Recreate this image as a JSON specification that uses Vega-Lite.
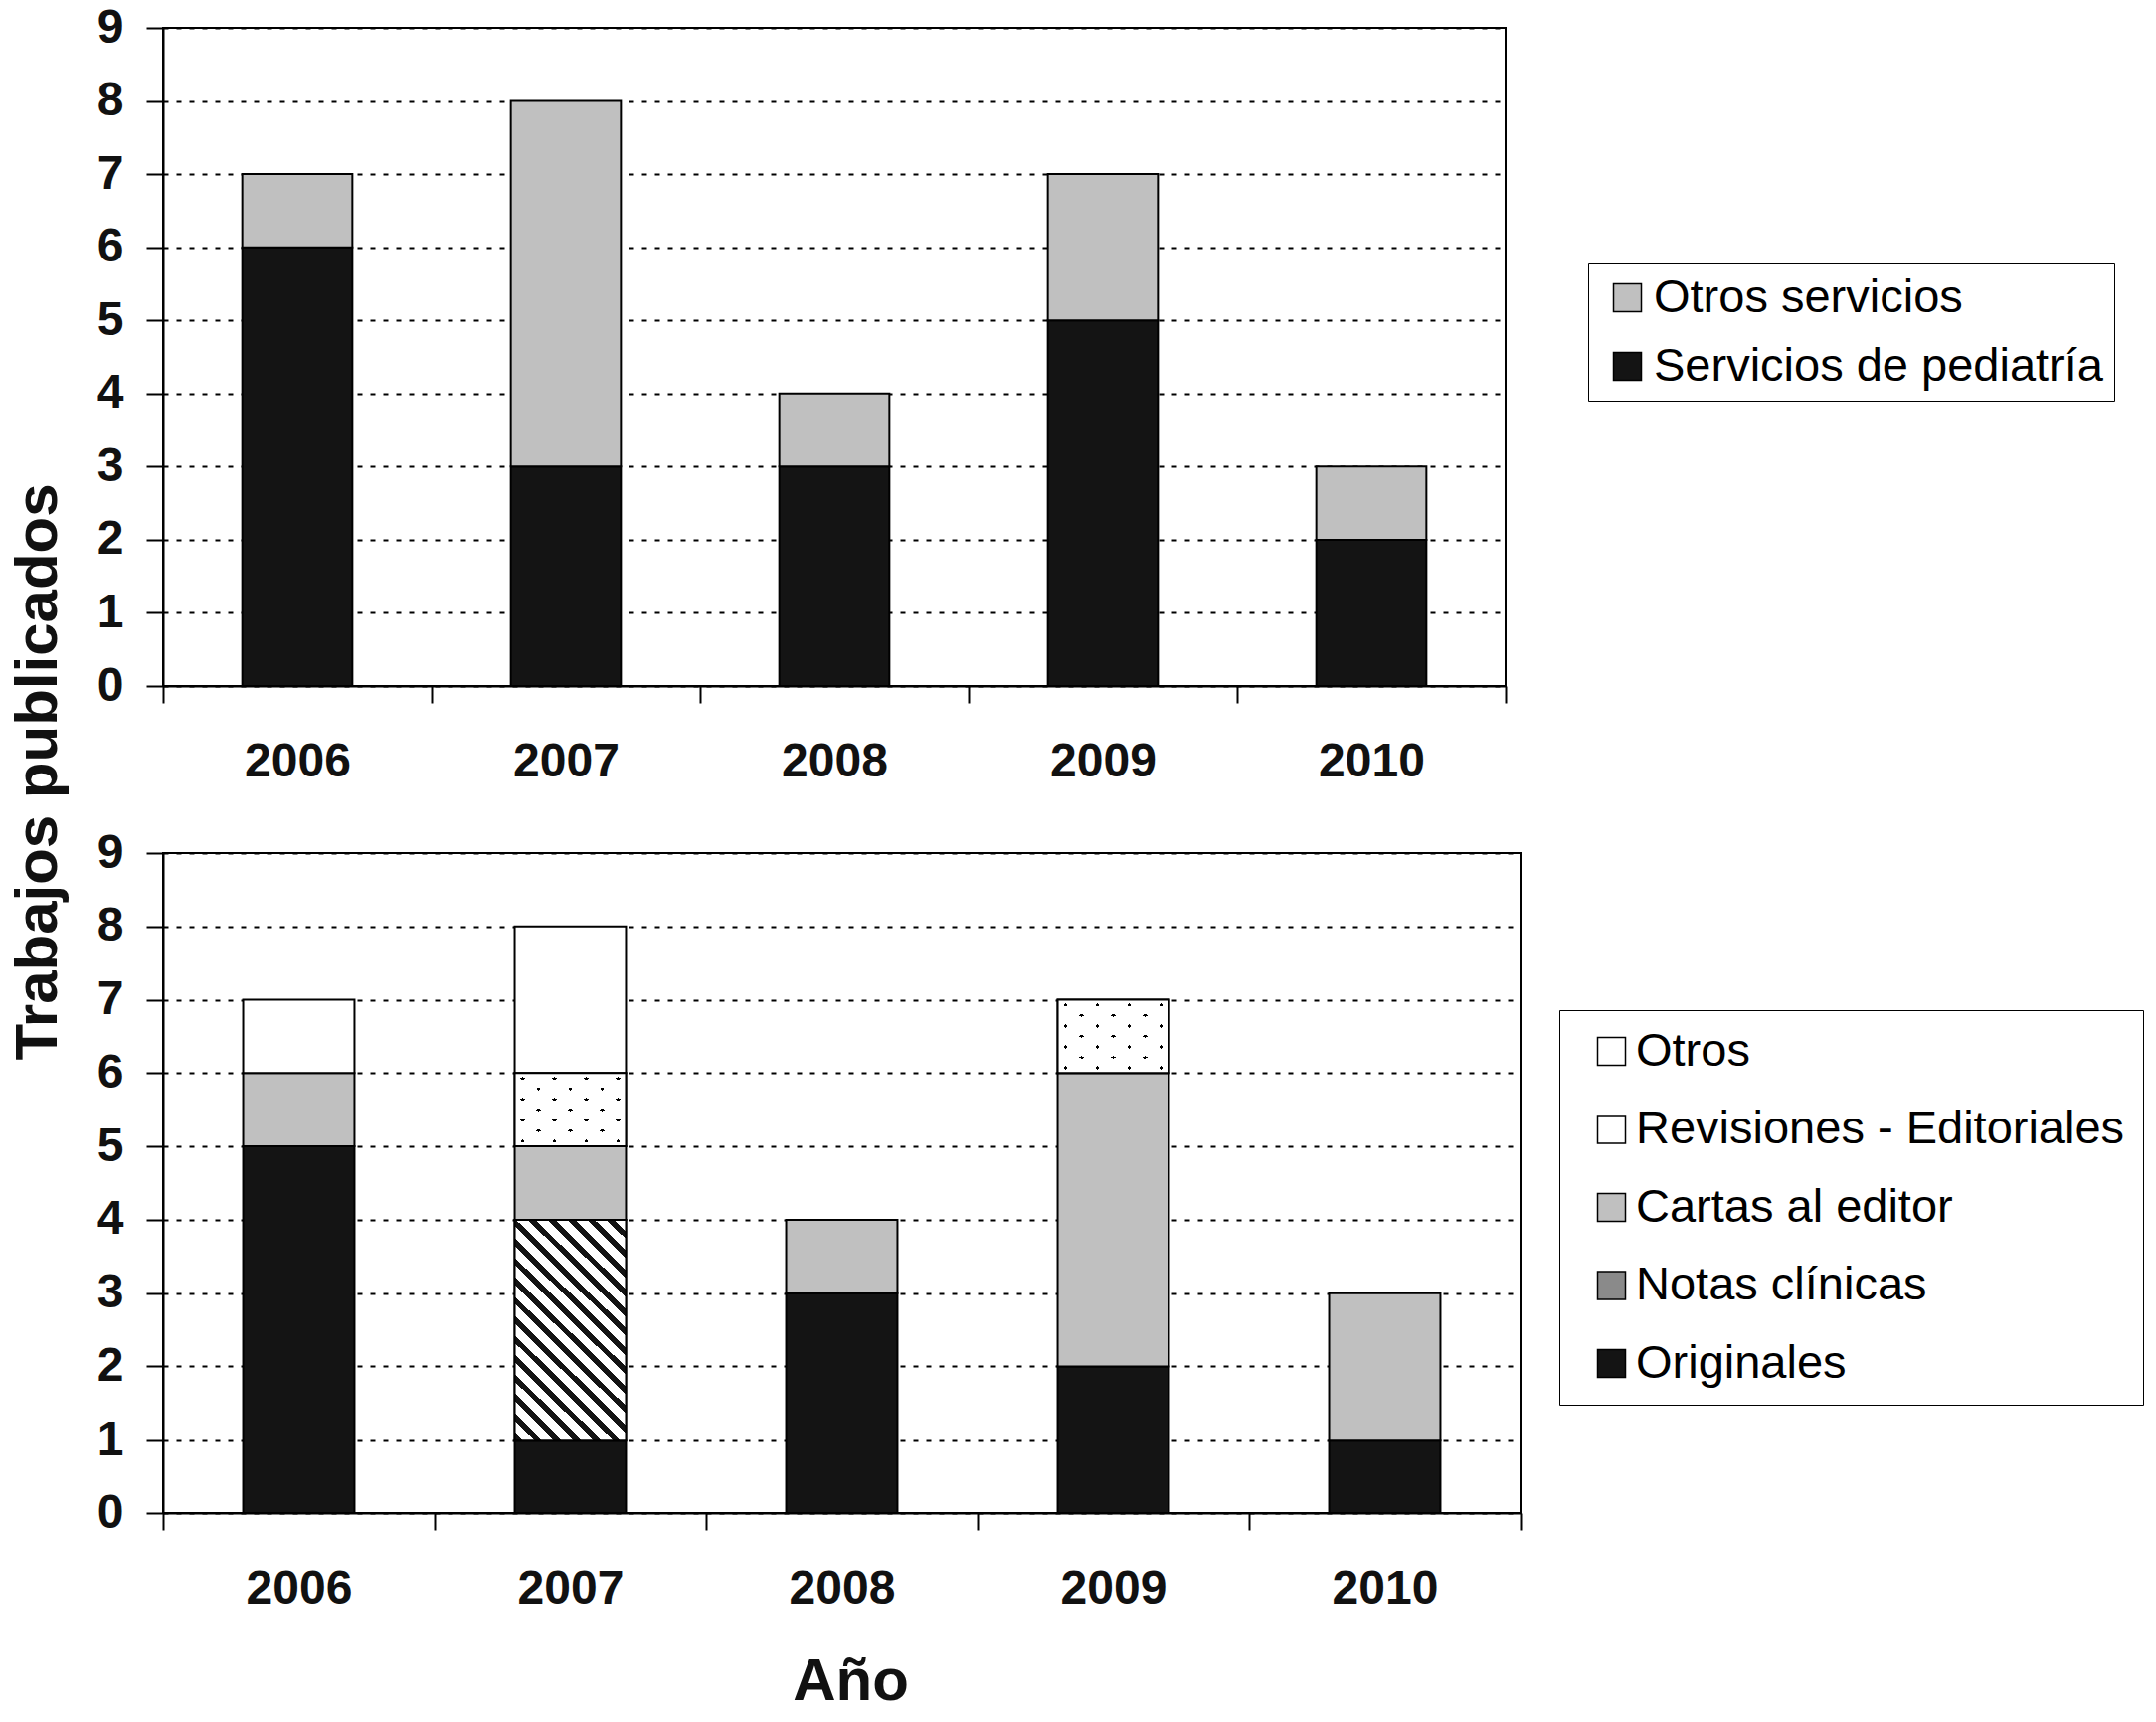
{
  "$schema": "https://vega.github.io/schema/vega-lite/v6.json",
  "background": "white",
  "padding": {"left": 6, "top": 3, "right": 0, "bottom": 0},
  "bounds": "flush",
  "spacing": 168,
  "resolve": {"scale": {"color": "independent"}, "legend": {"color": "independent"}},
  "config": {
    "font": "Liberation Sans",
    "view": {"stroke": "black", "strokeWidth": 2},
    "axis": {
      "labelFont": "Liberation Sans", "labelFontSize": 48, "labelFontWeight": "bold", "labelColor": "#111111",
      "domainColor": "black", "domainWidth": 2, "tickColor": "black", "tickWidth": 2, "tickSize": 17,
      "titleFont": "Liberation Sans", "titleFontSize": 60, "titleFontWeight": "bold", "titleColor": "#111111"
    },
    "axisY": {"gridColor": "black", "gridDash": [5, 8], "gridWidth": 2, "labelPadding": 23},
    "axisX": {"labelAngle": 0, "labelPadding": 35, "tickBand": "extent", "grid": false},
    "legend": {
      "title": null, "labelFont": "Liberation Sans", "labelColor": "black", "symbolType": "square",
      "symbolSize": 784, "symbolStrokeColor": "black", "symbolStrokeWidth": 1.5, "strokeColor": "black",
      "labelLimit": 1000, "orient": "none", "cornerRadius": 0, "labelFontSize": 47
    }
  },
  "vconcat": [
    {
      "width": 1350,
      "height": 662,
      "data": {"values": [
        {"year": "2006", "type": "Servicios de pediatría", "n": 6, "ord": 1},
        {"year": "2006", "type": "Otros servicios", "n": 1, "ord": 2},
        {"year": "2007", "type": "Servicios de pediatría", "n": 3, "ord": 1},
        {"year": "2007", "type": "Otros servicios", "n": 5, "ord": 2},
        {"year": "2008", "type": "Servicios de pediatría", "n": 3, "ord": 1},
        {"year": "2008", "type": "Otros servicios", "n": 1, "ord": 2},
        {"year": "2009", "type": "Servicios de pediatría", "n": 5, "ord": 1},
        {"year": "2009", "type": "Otros servicios", "n": 2, "ord": 2},
        {"year": "2010", "type": "Servicios de pediatría", "n": 2, "ord": 1},
        {"year": "2010", "type": "Otros servicios", "n": 1, "ord": 2}
      ]},
      "transform": [{"stack": "n", "groupby": ["year"], "sort": [{"field": "ord"}], "as": ["v0", "v1"]}],
      "mark": {"type": "bar", "stroke": "black", "strokeWidth": 2, "width": {"band": 0.41}},
      "encoding": {
        "x": {"field": "year", "type": "ordinal", "scale": {"paddingInner": 0, "paddingOuter": 0}, "axis": {"title": null}},
        "y": {"field": "v0", "type": "quantitative", "scale": {"domain": [0, 9], "nice": false},
              "axis": {"title": null, "values": [0, 1, 2, 3, 4, 5, 6, 7, 8, 9], "grid": true}},
        "y2": {"field": "v1"},
        "color": {"field": "type", "type": "nominal",
          "scale": {"domain": ["Otros servicios", "Servicios de pediatría"], "range": ["#c0c0c0", "#141414"]},
          "legend": {"orient": "none", "legendX": 1433, "legendY": 237, "padding": 11, "rowPadding": 21,
                     "symbolOffset": 5, "labelOffset": 3, "labelExpr": "datum.label + '  '"}}
      }
    },
    {
      "width": 1365,
      "height": 664,
      "data": {"values": [
        {"year": "2006", "type": "Originales", "n": 5, "ord": 1},
        {"year": "2006", "type": "Cartas al editor", "n": 1, "ord": 3},
        {"year": "2006", "type": "Otros", "n": 1, "ord": 5},
        {"year": "2007", "type": "Originales", "n": 1, "ord": 1},
        {"year": "2007", "type": "Notas clínicas", "n": 3, "ord": 2},
        {"year": "2007", "type": "Cartas al editor", "n": 1, "ord": 3},
        {"year": "2007", "type": "Revisiones - Editoriales", "n": 1, "ord": 4},
        {"year": "2007", "type": "Otros", "n": 2, "ord": 5},
        {"year": "2008", "type": "Originales", "n": 3, "ord": 1},
        {"year": "2008", "type": "Cartas al editor", "n": 1, "ord": 3},
        {"year": "2009", "type": "Originales", "n": 2, "ord": 1},
        {"year": "2009", "type": "Cartas al editor", "n": 4, "ord": 3},
        {"year": "2009", "type": "Revisiones - Editoriales", "n": 1, "ord": 4},
        {"year": "2010", "type": "Originales", "n": 1, "ord": 1},
        {"year": "2010", "type": "Cartas al editor", "n": 2, "ord": 3}
      ]},
      "transform": [{"stack": "n", "groupby": ["year"], "sort": [{"field": "ord"}], "as": ["v0", "v1"]}],
      "encoding": {
        "x": {"field": "year", "type": "ordinal", "scale": {"paddingInner": 0, "paddingOuter": 0},
              "axis": {"title": "Año", "titlePadding": 40, "titleX": 691, "titleAlign": "center"}},
        "y": {"field": "v0", "type": "quantitative", "scale": {"domain": [0, 9], "nice": false},
              "axis": {"title": "Trabajos publicados", "values": [0, 1, 2, 3, 4, 5, 6, 7, 8, 9], "grid": true,
                       "titleX": -126, "titleY": -82, "titleAngle": 270, "titleAlign": "center", "titleBaseline": "middle"}},
        "y2": {"field": "v1"}
      },
      "layer": [
        {
          "mark": {"type": "bar", "stroke": "black", "strokeWidth": 2, "width": {"band": 0.41}},
          "encoding": {
            "color": {"field": "type", "type": "nominal",
              "scale": {
                "domain": ["Otros", "Revisiones - Editoriales", "Cartas al editor", "Notas clínicas", "Originales"],
                "range": ["white", "white", "#c0c0c0", "#8a8a8a", "#141414"]},
              "legend": {"orient": "none", "legendX": 1404, "legendY": 158, "padding": 18, "rowPadding": 30.5,
                         "symbolOffset": 11, "labelOffset": 1,
                         "labelExpr": "datum.label + '  '"}}
          }
        },
        {
          "transform": [{"filter": "datum.type === 'Notas clínicas'"}],
          "mark": {"type": "bar", "stroke": "black", "strokeWidth": 2, "width": {"band": 0.41},
            "fill": {"gradient": "linear", "x1": 0, "y1": 1, "x2": 0.6, "y2": -0.2,
              "stops": [
                {"offset": 0, "color": "#141414"}, {"offset": 0.0235, "color": "#141414"}, {"offset": 0.0235, "color": "white"}, {"offset": 0.0588, "color": "white"},
                {"offset": 0.0588, "color": "#141414"}, {"offset": 0.0824, "color": "#141414"}, {"offset": 0.0824, "color": "white"}, {"offset": 0.1176, "color": "white"},
                {"offset": 0.1176, "color": "#141414"}, {"offset": 0.1412, "color": "#141414"}, {"offset": 0.1412, "color": "white"}, {"offset": 0.1765, "color": "white"},
                {"offset": 0.1765, "color": "#141414"}, {"offset": 0.2, "color": "#141414"}, {"offset": 0.2, "color": "white"}, {"offset": 0.2353, "color": "white"},
                {"offset": 0.2353, "color": "#141414"}, {"offset": 0.2588, "color": "#141414"}, {"offset": 0.2588, "color": "white"}, {"offset": 0.2941, "color": "white"},
                {"offset": 0.2941, "color": "#141414"}, {"offset": 0.3176, "color": "#141414"}, {"offset": 0.3176, "color": "white"}, {"offset": 0.3529, "color": "white"},
                {"offset": 0.3529, "color": "#141414"}, {"offset": 0.3765, "color": "#141414"}, {"offset": 0.3765, "color": "white"}, {"offset": 0.4118, "color": "white"},
                {"offset": 0.4118, "color": "#141414"}, {"offset": 0.4353, "color": "#141414"}, {"offset": 0.4353, "color": "white"}, {"offset": 0.4706, "color": "white"},
                {"offset": 0.4706, "color": "#141414"}, {"offset": 0.4941, "color": "#141414"}, {"offset": 0.4941, "color": "white"}, {"offset": 0.5294, "color": "white"},
                {"offset": 0.5294, "color": "#141414"}, {"offset": 0.5529, "color": "#141414"}, {"offset": 0.5529, "color": "white"}, {"offset": 0.5882, "color": "white"},
                {"offset": 0.5882, "color": "#141414"}, {"offset": 0.6118, "color": "#141414"}, {"offset": 0.6118, "color": "white"}, {"offset": 0.6471, "color": "white"},
                {"offset": 0.6471, "color": "#141414"}, {"offset": 0.6706, "color": "#141414"}, {"offset": 0.6706, "color": "white"}, {"offset": 0.7059, "color": "white"},
                {"offset": 0.7059, "color": "#141414"}, {"offset": 0.7294, "color": "#141414"}, {"offset": 0.7294, "color": "white"}, {"offset": 0.7647, "color": "white"},
                {"offset": 0.7647, "color": "#141414"}, {"offset": 0.7882, "color": "#141414"}, {"offset": 0.7882, "color": "white"}, {"offset": 0.8235, "color": "white"},
                {"offset": 0.8235, "color": "#141414"}, {"offset": 0.8471, "color": "#141414"}, {"offset": 0.8471, "color": "white"}, {"offset": 0.8824, "color": "white"},
                {"offset": 0.8824, "color": "#141414"}, {"offset": 0.9059, "color": "#141414"}, {"offset": 0.9059, "color": "white"}, {"offset": 0.9412, "color": "white"},
                {"offset": 0.9412, "color": "#141414"}, {"offset": 0.9647, "color": "#141414"}, {"offset": 0.9647, "color": "white"}, {"offset": 1, "color": "white"}
              ]}}
        },
        {
          "transform": [{"filter": "datum.type === 'Revisiones - Editoriales'"}],
          "mark": {"type": "bar", "strokeWidth": 0, "width": {"band": 0.41},
            "fill": {"gradient": "linear", "x1": 0, "y1": 0, "x2": 1, "y2": 1,
              "stops": [
                {"offset": 0, "color": "white"}, {"offset": 0.0604, "color": "white"}, {"offset": 0.0604, "color": "black"}, {"offset": 0.0824, "color": "black"},
                {"offset": 0.0824, "color": "white"}, {"offset": 0.2033, "color": "white"}, {"offset": 0.2033, "color": "black"}, {"offset": 0.2253, "color": "black"},
                {"offset": 0.2253, "color": "white"}, {"offset": 0.3461, "color": "white"}, {"offset": 0.3461, "color": "black"}, {"offset": 0.3681, "color": "black"},
                {"offset": 0.3681, "color": "white"}, {"offset": 0.489, "color": "white"}, {"offset": 0.489, "color": "black"}, {"offset": 0.511, "color": "black"},
                {"offset": 0.511, "color": "white"}, {"offset": 0.6319, "color": "white"}, {"offset": 0.6319, "color": "black"}, {"offset": 0.6539, "color": "black"},
                {"offset": 0.6539, "color": "white"}, {"offset": 0.7747, "color": "white"}, {"offset": 0.7747, "color": "black"}, {"offset": 0.7967, "color": "black"},
                {"offset": 0.7967, "color": "white"}, {"offset": 0.9176, "color": "white"}, {"offset": 0.9176, "color": "black"}, {"offset": 0.9396, "color": "black"},
                {"offset": 0.9396, "color": "white"}, {"offset": 1, "color": "white"}
              ]}}
        },
        {
          "transform": [{"filter": "datum.type === 'Revisiones - Editoriales'"}],
          "mark": {"type": "bar", "stroke": "black", "strokeWidth": 2, "width": {"band": 0.41},
            "fill": {"gradient": "linear", "x1": 0, "y1": 1, "x2": 1, "y2": 0,
              "stops": [
                {"offset": 0, "color": "white"}, {"offset": 0.0604, "color": "white"}, {"offset": 0.0604, "color": "rgba(255,255,255,0)"}, {"offset": 0.0824, "color": "rgba(255,255,255,0)"},
                {"offset": 0.0824, "color": "white"}, {"offset": 0.2033, "color": "white"}, {"offset": 0.2033, "color": "rgba(255,255,255,0)"}, {"offset": 0.2253, "color": "rgba(255,255,255,0)"},
                {"offset": 0.2253, "color": "white"}, {"offset": 0.3461, "color": "white"}, {"offset": 0.3461, "color": "rgba(255,255,255,0)"}, {"offset": 0.3681, "color": "rgba(255,255,255,0)"},
                {"offset": 0.3681, "color": "white"}, {"offset": 0.489, "color": "white"}, {"offset": 0.489, "color": "rgba(255,255,255,0)"}, {"offset": 0.511, "color": "rgba(255,255,255,0)"},
                {"offset": 0.511, "color": "white"}, {"offset": 0.6319, "color": "white"}, {"offset": 0.6319, "color": "rgba(255,255,255,0)"}, {"offset": 0.6539, "color": "rgba(255,255,255,0)"},
                {"offset": 0.6539, "color": "white"}, {"offset": 0.7747, "color": "white"}, {"offset": 0.7747, "color": "rgba(255,255,255,0)"}, {"offset": 0.7967, "color": "rgba(255,255,255,0)"},
                {"offset": 0.7967, "color": "white"}, {"offset": 0.9176, "color": "white"}, {"offset": 0.9176, "color": "rgba(255,255,255,0)"}, {"offset": 0.9396, "color": "rgba(255,255,255,0)"},
                {"offset": 0.9396, "color": "white"}, {"offset": 1, "color": "white"}
              ]}}
        }
      ]
    }
  ]
}
